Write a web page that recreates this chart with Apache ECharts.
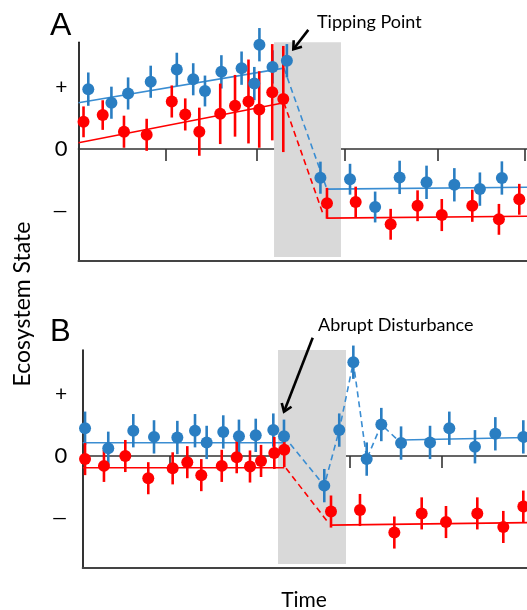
<!DOCTYPE html>
<html><head><meta charset="utf-8">
<script src="https://cdn.jsdelivr.net/npm/echarts@6/dist/echarts.min.js"></script>
<style>html,body{margin:0;padding:0;background:#fff}#c{width:527px;height:610px}</style>
</head><body><div id="c"></div>
<script>
// ---------- data (time units on x, ecosystem state units on y) ----------
// [time, state, error half-length]
const blueA = [
  [1.09,0.97,0.27],[3.67,0.75,0.26],[5.53,0.90,0.26],[8.05,1.09,0.26],[10.96,1.29,0.27],[12.79,1.13,0.26],
  [14.10,0.94,0.25],[15.93,1.25,0.27],[18.18,1.31,0.27],[19.60,1.06,0.27],[20.17,1.69,0.27],[21.63,1.33,0.27],
  [23.23,1.43,0.27],
  [26.97,-0.465,0.26],[30.27,-0.49,0.25],[33.07,-0.94,0.25],[35.8,-0.46,0.27],[38.8,-0.54,0.27],
  [41.9,-0.58,0.27],[44.75,-0.65,0.27],[47.2,-0.47,0.27]
];
const redA = [
  [0.56,0.44,0.25],[2.70,0.55,0.24],[5.07,0.28,0.26],[7.6,0.23,0.26],[10.4,0.77,0.26],[11.9,0.56,0.26],
  [13.47,0.28,0.39],[15.8,0.57,0.49],[17.45,0.70,0.5],[18.95,0.77,0.68],[20.15,0.64,0.62],[21.6,0.92,0.78],
  [22.83,0.81,0.86],
  [27.7,-0.88,0.25],[30.9,-0.86,0.25],[34.8,-1.22,0.25],[37.8,-0.92,0.25],[40.5,-1.07,0.26],
  [43.9,-0.92,0.26],[46.87,-1.14,0.25],[49.14,-0.815,0.25]
];
const blueTrendA = [[0,0.75],[22.9,1.31]];
const redTrendA  = [[0,0.10],[22.9,0.75]];
const blueDashA  = [[22.9,1.31],[27.67,-0.64]];
const redDashA   = [[22.9,0.75],[27.3,-1.07]];
const blueStateA = [[27.67,-0.65],[50,-0.62]];
const redStateA  = [[27.67,-1.12],[50,-1.09]];
const shadeA = [21.8, 29.26, -1.75, 1.75];           // x0, x1, y0, y1
const arrowA = [[25.62,1.93,23.95,1.616]];            // from x,y -> to x,y

const blueB = [
  [0.26,0.45,0.27],[2.85,0.125,0.27],[5.64,0.41,0.27],[7.95,0.31,0.27],[10.55,0.30,0.27],[12.52,0.41,0.27],
  [13.82,0.22,0.27],[15.67,0.39,0.27],[17.42,0.32,0.27],[19.29,0.335,0.27],[21.25,0.42,0.27],[22.44,0.32,0.27],
  [26.93,-0.48,0.27],[28.6,0.42,0.27],[30.17,1.52,0.27],[31.66,-0.05,0.27],[33.29,0.51,0.27],[35.49,0.21,0.27],
  [38.72,0.22,0.27],[40.87,0.45,0.27],[43.73,0.15,0.27],[46.0,0.36,0.27],[49.12,0.31,0.27]
];
const redB = [
  [0.26,-0.05,0.26],[2.37,-0.16,0.26],[4.75,0.0,0.26],[7.31,-0.36,0.26],[10.03,-0.2,0.26],[11.66,-0.10,0.26],
  [13.22,-0.31,0.26],[15.5,-0.16,0.26],[17.17,-0.02,0.26],[18.65,-0.17,0.26],[19.88,-0.08,0.26],[21.36,0.05,0.26],
  [22.47,0.10,0.28],
  [27.68,-0.90,0.26],[30.91,-0.875,0.26],[34.74,-1.24,0.26],[37.79,-0.93,0.26],[40.5,-1.07,0.26],
  [43.99,-0.93,0.26],[46.89,-1.15,0.26],[49.12,-0.82,0.26]
];
const blueBaseB  = [[0,0.215],[22.44,0.215]];
const blueDashB  = [[22.44,0.32],[26.93,-0.48],[28.6,0.42],[30.17,1.52],[31.66,-0.05],[33.29,0.51],[35.49,0.21]];
const blueStateB = [[35.49,0.26],[49.53,0.30]];
const redBaseB   = [[0,-0.19],[22.47,-0.19]];
const redDashB   = [[22.67,-0.2],[27.38,-1.08]];
const redStateB  = [[27.57,-1.12],[49.53,-1.08]];
const shadeB = [21.77, 29.35, -1.75, 1.734];
const arrowB = [[25.64,1.917,22.44,0.718]];

const xTicksA = [9.7, 19.9, 29.7, 40.0, 49.8];
const xTicksB = [9.7, 19.8, 29.8, 40.0];
const yTicks = [-1, 0, 1];
const yTickLabels = {'-1':'—', '0':'0', '1':'+'};

const panelTitles = ['A','B'];
const annotations = ['Tipping Point','Abrupt Disturbance'];
const axisTitles = {x:'Time', y:'Ecosystem State'};

// ---------- styling ----------
const BLUE = '#2a7ec2', BLUE_LINE = '#3a8dd2', RED = '#ff0000';
const FONT = 'Lato, "Open Sans", sans-serif';
const chart = echarts.init(document.getElementById('c'), null, {renderer:'canvas'});

function errSeries(data, color, xi, yi){
  return {type:'custom', xAxisIndex:xi, yAxisIndex:yi, z:3, data:data, clip:false,
    renderItem:function(params, api){
      const x=api.value(0), y=api.value(1), e=api.value(2);
      const p1=api.coord([x,y+e]), p2=api.coord([x,y-e]);
      return {type:'line', shape:{x1:p1[0],y1:p1[1],x2:p2[0],y2:p2[1]}, style:{stroke:color, lineWidth:2.6}};
    }};
}
function pts(data, color, xi, yi){
  return {type:'scatter', xAxisIndex:xi, yAxisIndex:yi, z:4, symbolSize:12, data:data.map(d=>[d[0],d[1]]),
    itemStyle:{color:color, opacity:1}, silent:true};
}
function line(data, color, xi, yi, dashed){
  return {type:'line', xAxisIndex:xi, yAxisIndex:yi, z:2, data:data, symbol:'none', silent:true, clip:false,
    lineStyle:{color:color, width:1.6, type:dashed?[6,4]:'solid'}};
}
function shade(s, xi, yi){
  return {type:'line', xAxisIndex:xi, yAxisIndex:yi, z:1, data:[], silent:true, clip:false,
    markArea:{silent:true, itemStyle:{color:'#d9d9d9'}, data:[[{coord:[s[0],s[3]]},{coord:[s[1],s[2]]}]]}};
}
function arrow(a, xi, yi){
  return {type:'custom', xAxisIndex:xi, yAxisIndex:yi, z:6, data:a, clip:false, silent:true,
    encode:{x:[0,2], y:[1,3]},
    renderItem:function(params, api){
      const p1=api.coord([api.value(0),api.value(1)]), p2=api.coord([api.value(2),api.value(3)]);
      const ang=Math.atan2(p2[1]-p1[1], p2[0]-p1[0]), L=9, w=0.62;
      const a1=[p2[0]-L*Math.cos(ang-w), p2[1]-L*Math.sin(ang-w)];
      const a2=[p2[0]-L*Math.cos(ang+w), p2[1]-L*Math.sin(ang+w)];
      return {type:'group', children:[
        {type:'line', shape:{x1:p1[0],y1:p1[1],x2:p2[0],y2:p2[1]}, style:{stroke:'#000', lineWidth:2.6}},
        {type:'polyline', shape:{points:[a1,p2,a2]}, style:{stroke:'#000', fill:null, lineWidth:2.6, lineJoin:'miter'}}
      ]};
    }};
}

function yAxisCfg(grid, min, max, margin){
  return {type:'value', gridIndex:grid, min:min, max:max,
    axisLine:{show:true, onZero:false, lineStyle:{color:'#000', width:1.6}},
    axisTick:{show:false}, splitLine:{show:false},
    axisLabel:{show:true, customValues:yTicks, margin:margin,
      formatter:function(v){ const t=yTickLabels[String(v)]; return v===0?'{z|'+t+'}':(v>0?'{p|'+t+'}':'{m|'+t+'}'); },
      rich:{z:{fontSize:22, fontFamily:FONT, color:'#000'},
            p:{fontSize:21, fontFamily:FONT, color:'#000'},
            m:{fontSize:19, fontFamily:FONT, color:'#000'}}}};
}
function xZero(grid, max, ticks){
  return {type:'value', gridIndex:grid, min:0, max:max, position:'bottom',
    axisLine:{show:true, onZero:true, lineStyle:{color:'#333', width:1.6}},
    axisTick:{show:true, customValues:ticks, length:12, inside:false, lineStyle:{color:'#333', width:1.6}},
    axisLabel:{show:false}, splitLine:{show:false}};
}
function xBottom(grid, max){
  return {type:'value', gridIndex:grid, min:0, max:max, position:'bottom',
    axisLine:{show:true, onZero:false, lineStyle:{color:'#444', width:2}},
    axisTick:{show:false}, axisLabel:{show:false}, splitLine:{show:false}};
}

const option = {
  animation:false,
  backgroundColor:'#fff',
  grid:[
    {left:78.5, top:42.3, width:448.5, height:218.7},
    {left:82.7, top:350, width:444.3, height:218}
  ],
  xAxis:[ xZero(0,50,xTicksA), xBottom(0,50), xZero(1,49.53,xTicksB), xBottom(1,49.53) ],
  yAxis:[ yAxisCfg(0,-1.815,1.729,11), yAxisCfg(1,-1.815,1.718,15.5) ],
  series:[
    shade(shadeA,0,0),
    line(blueTrendA,BLUE_LINE,0,0,false), line(redTrendA,RED,0,0,false),
    line(blueDashA,BLUE_LINE,0,0,true), line(redDashA,RED,0,0,true),
    line(blueStateA,BLUE_LINE,0,0,false), line(redStateA,RED,0,0,false),
    errSeries(blueA,BLUE,0,0), pts(blueA,BLUE,0,0),
    errSeries(redA,RED,0,0), pts(redA,RED,0,0),
    arrow(arrowA,0,0),

    shade(shadeB,2,1),
    line(blueBaseB,BLUE_LINE,2,1,false), line(redBaseB,RED,2,1,false),
    line(blueDashB,BLUE_LINE,2,1,true), line(redDashB,RED,2,1,true),
    line(blueStateB,BLUE_LINE,2,1,false), line(redStateB,RED,2,1,false),
    errSeries(blueB,BLUE,2,1), pts(blueB,BLUE,2,1),
    errSeries(redB,RED,2,1), pts(redB,RED,2,1),
    arrow(arrowB,2,1)
  ],
  graphic:[
    {type:'text', x:50, y:10, style:{text:panelTitles[0], font:'32px "Liberation Sans", Arial, sans-serif', fill:'#000'}},
    {type:'text', x:50, y:317, style:{text:panelTitles[1], font:'31px "Liberation Sans", Arial, sans-serif', fill:'#000'}},
    {type:'text', x:317, y:13, style:{text:annotations[0], font:'18px '+FONT, fill:'#000'}},
    {type:'text', x:318, y:316, style:{text:annotations[1], font:'18px '+FONT, fill:'#000'}},
    {type:'text', x:304, y:590, style:{text:axisTitles.x, font:'21px '+FONT, fill:'#000', align:'center'}},
    {type:'text', x:11, y:304, rotation:Math.PI/2, style:{text:axisTitles.y, font:'23px '+FONT, fill:'#000', align:'center'}}
  ]
};
chart.setOption(option);
</script></body></html>
